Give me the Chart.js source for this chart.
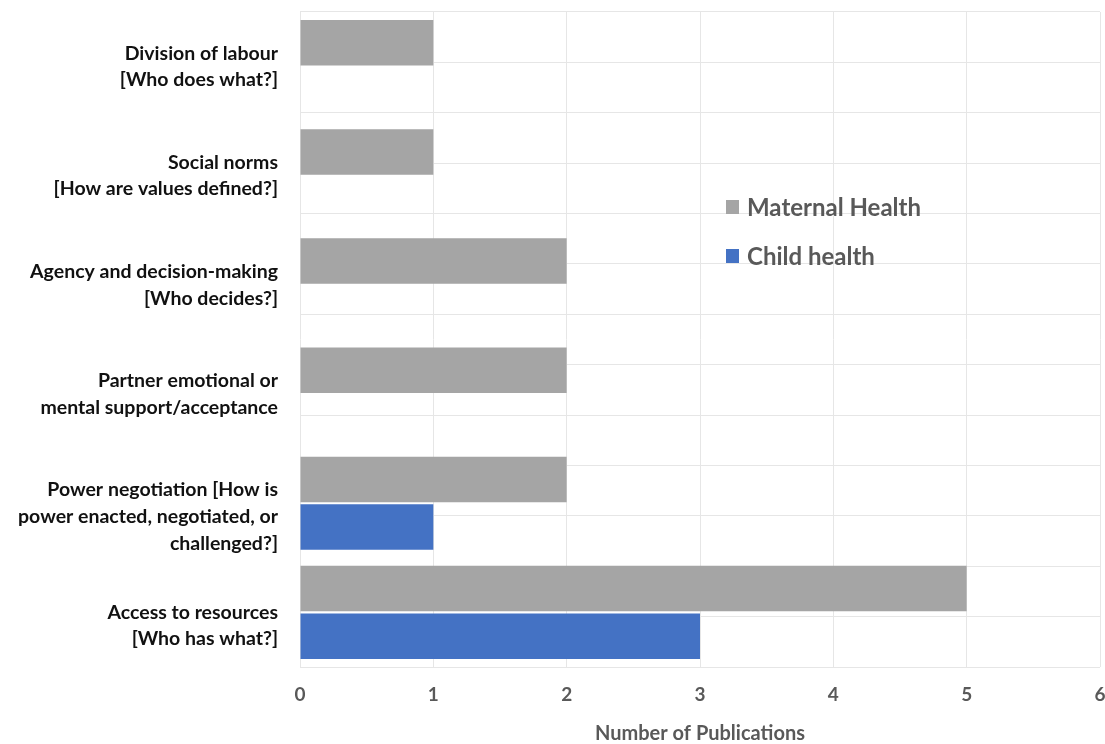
<!DOCTYPE html>
<html>
<head>
<meta charset="utf-8">
<title>Publications by gender dimension</title>
<script src="https://cdn.jsdelivr.net/npm/chart.js@4.4.1/dist/chart.umd.min.js"></script>
<style>
    html, body { margin: 0; padding: 0; background: #ffffff; }
    #wrap { width: 1105px; height: 744px; }
</style>
</head>
<body>
<div id="wrap"><canvas id="pubChart" width="1105" height="744"></canvas></div>
<script>
// Categories (top to bottom), multi-line labels
const categories = [
    ["Division of labour", "[Who does what?]"],
    ["Social norms", "[How are values defined?]"],
    ["Agency and decision-making", "[Who decides?]"],
    ["Partner emotional or", "mental support/acceptance"],
    ["", "Power negotiation [How is", "power enacted, negotiated, or", "challenged?]"],
    ["", "Access to resources", "[Who has what?]"]
];

// Series values
const maternalHealth = [1, 1, 2, 2, 2, 5];
const childHealth = [0, 0, 0, 0, 1, 3];

// Axis
const xMin = 0;
const xMax = 6;
const xTitle = "Number of Publications";

const seriesNames = ["Maternal Health", "Child health"];
const seriesColors = ["#A5A5A5", "#4472C4"];

const FONT = "Lato, 'Open Sans', 'DejaVu Sans', sans-serif";
const GRID = "#e6e6e6";

// Legend drawn inside the plot area, like the original
const insideLegend = {
    id: "insideLegend",
    afterDraw(chart) {
        const ctx = chart.ctx;
        const area = chart.chartArea;
        const x = area.left + 426;
        const y0 = area.top + 195;
        ctx.save();
        ctx.font = "bold 24px " + FONT;
        ctx.textBaseline = "middle";
        ctx.textAlign = "left";
        chart.data.datasets.forEach((ds, i) => {
            const y = y0 + i * 49;
            ctx.fillStyle = ds.backgroundColor;
            ctx.fillRect(x, y - 7, 13, 14);
            ctx.fillStyle = "#595959";
            ctx.fillText(ds.label, x + 21, y + 1);
        });
        ctx.restore();
    }
};

const chart = new Chart(document.getElementById("pubChart"), {
    type: "bar",
    data: {
        labels: categories,
        datasets: [
            {
                label: seriesNames[0],
                data: maternalHealth,
                backgroundColor: seriesColors[0],
                categoryPercentage: 0.872,
                barPercentage: 0.956
            },
            {
                label: seriesNames[1],
                data: childHealth,
                backgroundColor: seriesColors[1],
                categoryPercentage: 0.872,
                barPercentage: 0.956
            }
        ]
    },
    options: {
        indexAxis: "y",
        responsive: false,
        animation: false,
        layout: { padding: { top: 12, right: 5, left: 0, bottom: 0 } },
        plugins: {
            legend: { display: false },
            tooltip: { enabled: false }
        },
        scales: {
            x: {
                min: xMin,
                max: xMax,
                ticks: {
                    stepSize: 1,
                    color: "#595959",
                    padding: 16,
                    font: { family: FONT, size: 19, weight: "bold" }
                },
                grid: { color: GRID, drawTicks: false },
                border: { display: false },
                title: {
                    display: true,
                    text: xTitle,
                    color: "#595959",
                    padding: { top: 4, bottom: 0 },
                    font: { family: FONT, size: 20, weight: "bold", lineHeight: 1 }
                },
                afterFit(scale) {
                    scale.height = 77;
                    scale.paddingLeft = 0;
                    scale.paddingRight = 0;
                }
            },
            y: {
                ticks: {
                    color: "#111111",
                    padding: 14,
                    autoSkip: false,
                    font: { family: FONT, size: 19.5, weight: "bold", lineHeight: 1.37 }
                },
                grid: { display: false },
                border: { display: false },
                afterFit(scale) {
                    scale.width = 300;
                    scale.paddingTop = 0;
                    scale.paddingBottom = 0;
                }
            },
            // extra axis only to draw the half-category grid lines
            yGrid: {
                type: "linear",
                position: "right",
                min: 0,
                max: categories.length * 2,
                ticks: { display: false, stepSize: 1 },
                grid: { color: GRID, drawTicks: false },
                border: { display: false },
                afterFit(scale) {
                    scale.width = 0;
                    scale.paddingTop = 0;
                    scale.paddingBottom = 0;
                }
            }
        }
    },
    plugins: [insideLegend]
});
</script>
</body>
</html>
